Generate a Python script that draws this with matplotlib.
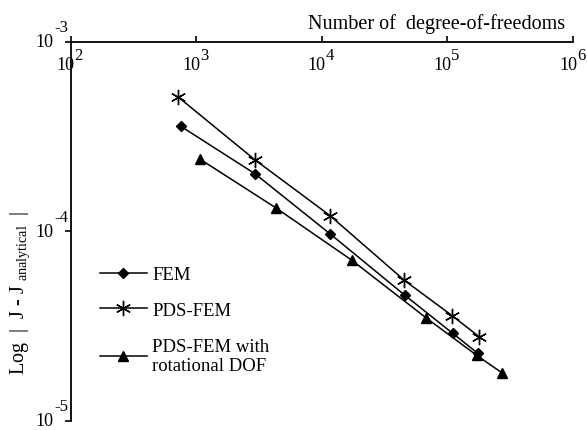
import matplotlib
matplotlib.use('Agg')
import matplotlib.pyplot as plt
from matplotlib.ticker import LogLocator, NullLocator, NullFormatter
from matplotlib.transforms import offset_copy, blended_transform_factory

plt.rcParams['font.family'] = ['Liberation Serif', 'DejaVu Serif']
plt.rcParams['mathtext.fontset'] = 'custom'
plt.rcParams['mathtext.rm'] = 'Liberation Serif'
plt.rcParams['mathtext.it'] = 'Liberation Serif:italic'

# values
fem_dof = [755, 2930, 11600, 45800, 110000, 175000]
fem_err = [3.57e-4, 2.01e-4, 9.7e-5, 4.6e-5, 2.9e-5, 2.27e-5]

pds_dof = [720, 2930, 11600, 45300, 109000, 179000]
pds_err = [5.09e-4, 2.38e-4, 1.21e-4, 5.52e-5, 3.59e-5, 2.78e-5]

rot_dof = [1080, 4290, 17300, 67500, 171000, 270000]
rot_err = [2.39e-4, 1.33e-4, 7.04e-5, 3.5e-5, 2.22e-5, 1.8e-5]

labels = ['FEM', 'PDS-FEM', 'PDS-FEM with\nrotational DOF']
x_exps = [2, 3, 4, 5, 6]
y_exps = [-5, -4, -3]

fig = plt.figure(figsize=(5.87, 4.31), dpi=100)
ax = fig.add_axes([70.7 / 587, 1 - 422 / 431, (573 - 70.7) / 587, (422 - 42.5) / 431])

ax.plot(fem_dof, fem_err, color='black', lw=1.1, marker='D', ms=5, label=labels[0])
ax.plot(pds_dof, pds_err, color='black', lw=1.1, marker=(6, 2, 0), ms=11, mew=1.0, label=labels[1])
ax.plot(rot_dof, rot_err, color='black', lw=1.1, marker='^', ms=7, label=labels[2])

ax.set_xscale('log')
ax.set_yscale('log')
ax.set_xlim(1e2, 1e6)
ax.set_ylim(1e-5, 1e-3)

ax.spines['bottom'].set_visible(False)
ax.spines['right'].set_visible(False)
ax.spines['top'].set_linewidth(1.3)
ax.spines['left'].set_linewidth(1.3)

ax.xaxis.set_major_locator(LogLocator(base=10, numticks=10))
ax.xaxis.set_minor_locator(NullLocator())
ax.yaxis.set_major_locator(LogLocator(base=10, numticks=10))
ax.yaxis.set_minor_locator(NullLocator())
ax.xaxis.set_major_formatter(NullFormatter())
ax.yaxis.set_major_formatter(NullFormatter())

ax.tick_params(axis='x', top=True, bottom=False, labeltop=False, labelbottom=False,
               direction='out', length=4, width=1.2)
ax.tick_params(axis='y', direction='out', length=4, width=1.2, labelleft=False)

# tick labels written as "10" with a raised exponent, like the original
tx = blended_transform_factory(ax.transData, ax.transAxes)
for e in x_exps:
    ax.text(10.0 ** e, 1, '10', transform=offset_copy(tx, fig=fig, x=4, y=-28, units='dots'),
            ha='right', va='baseline', fontsize=13)
    ax.text(10.0 ** e, 1, str(e), transform=offset_copy(tx, fig=fig, x=4, y=-17, units='dots'),
            ha='left', va='baseline', fontsize=12)

ty = blended_transform_factory(ax.transAxes, ax.transData)
for e in y_exps:
    ax.text(0, 10.0 ** e, '10', transform=offset_copy(ty, fig=fig, x=-17, y=-4.5, units='dots'),
            ha='right', va='baseline', fontsize=13)
    ax.text(0, 10.0 ** e, str(e), transform=offset_copy(ty, fig=fig, x=-16, y=10.5, units='dots'),
            ha='left', va='baseline', fontsize=12)

fig.text(565 / 587, 1 - 24 / 431, 'Number of  degree-of-freedoms', ha='right', va='center', fontsize=14.5)
fig.text(20 / 587, 1 - 293 / 431, r'Log  |  J - J $_{\mathrm{analytical}}$  |', rotation=90,
         ha='center', va='center', fontsize=14.5)

ax.legend(loc='upper left', bbox_to_anchor=(100 / 587, 1 - 267 / 431),
          bbox_transform=fig.transFigure, frameon=False, borderpad=0, borderaxespad=0,
          handlelength=2.5, handletextpad=0.3, labelspacing=1.0, fontsize=13.5)

fig.savefig('out.png', dpi=100)
